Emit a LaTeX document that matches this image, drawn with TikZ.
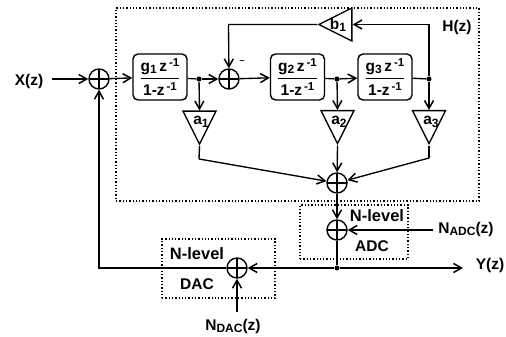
\documentclass[tikz,border=0pt]{standalone}
\usepackage{amsmath}
\usepackage{fontspec}
\setmainfont{Liberation Sans}
\usetikzlibrary{arrows.meta,shapes.geometric,calc}
\newcommand\lo[1]{\raisebox{-.3ex}{\fontsize{12}{12}\selectfont #1}}
\newcommand\hi[1]{\raisebox{.6ex}{\fontsize{11.5}{12}\selectfont #1}}
\newcommand\gf[1]{$\genfrac{}{}{1.2pt}{0}{\mbox{g\lo{#1}\,z\hi{\,-1}}}{\mbox{1-z\hi{\,-1}}}$}
\tikzset{
  every node/.style={font=\fontsize{15.5}{17}\selectfont\bfseries},
  wire/.style={line width=1.35pt},
  flow/.style={wire,-{Straight Barb[length=8pt,width=9pt,line width=1.5pt]}},
  sumnode/.style={draw,circle,line width=1.4pt,minimum size=20pt,inner sep=0pt,
    path picture={\draw[line width=1.3pt] (path picture bounding box.north)--(path picture bounding box.south)
      (path picture bounding box.west)--(path picture bounding box.east);}},
  gbox/.style={draw,rounded corners=5pt,line width=1.4pt,minimum width=54pt,minimum height=46pt,inner sep=0pt},
  gain/.style={draw,isosceles triangle,isosceles triangle stretches,line width=1.4pt,
    minimum height=33pt,minimum width=33pt,inner sep=0pt,shape border rotate=-90,anchor=apex},
  dot/.style={circle,fill=black,inner sep=0pt,minimum size=5pt},
  dotbox/.style={draw,line width=1.2pt,dash pattern=on 1.3pt off 2pt},
}
\begin{document}
\begin{tikzpicture}[x=1pt,y=-1pt]
\useasboundingbox (0,0) rectangle (506,337);
% dotted regions
\node[dotbox,minimum width=363pt,minimum height=193pt,inner sep=0pt] (hbox) at (297.5,104.5) {};
\node[dotbox,minimum width=108pt,minimum height=54pt,inner sep=0pt] (adcbox) at (354,232) {};
\node[dotbox,minimum width=113pt,minimum height=59pt,inner sep=0pt] (dacbox) at (218.5,268.5) {};
% blocks
\node[sumnode] (s1) at (99,79) {};
\node[sumnode] (s2) at (229,79) {};
\node[sumnode] (s3) at (337,183) {};
\node[sumnode] (s4) at (337,230) {};
\node[sumnode] (s5) at (237,268) {};
\node[gbox] (g1) at (160,77) {\gf{1}};
\node[gbox] (g2) at (297.5,77) {\gf{2}};
\node[gbox] (g3) at (385,77) {\gf{3}};
\node[gain] (a1) at (199.5,146) {};
\node[gain] (a2) at (337.5,145.5) {};
\node[gain] (a3) at (429,145.5) {};
\node[gain,shape border rotate=180] (b1) at (317,24.5) {};
\node[inner sep=0pt] (a1t) at (201,122) {a\lo{1}};
\node[inner sep=0pt] (a2t) at (339,122) {a\lo{2}};
\node[inner sep=0pt] (a3t) at (431,122) {a\lo{3}};
\node[inner sep=0pt] (b1t) at (338,25) {b\lo{1}};
\node[dot] (j1) at (199,79) {};
\node[dot] (j2) at (337,79) {};
\node[dot] (j3) at (429,79) {};
\node[dot] (j4) at (337,268) {};
\coordinate (xin) at (52,79);
\coordinate (yout) at (463,268);
\coordinate (nadc) at (433,230);
\coordinate (ndac) at (237,312);
\coordinate (k1) at (199,159);
\coordinate (k3) at (429,158);
\coordinate (fbr) at (429,24.5);
\coordinate (fbl) at (228.5,24.5);
\coordinate (dacl) at (99,268);
% connectors
\draw[flow] (xin) -- (s1);
\draw[flow] (s1) -- (g1);
\draw[wire] (g1) -- (j1);
\draw[flow] (j1) -- (s2);
\draw[flow] (s2) -- (g2);
\draw[wire] (g2) -- (j2);
\draw[flow] (j2) -- (g3);
\draw[wire] (g3) -- (j3);
\draw[flow] (j1) -- (a1.lower side);
\draw[flow] (j2) -- (a2.lower side);
\draw[flow] (j3) -- (a3.lower side);
\draw[flow] (j3) -- (fbr) -- (b1.lower side);
\draw[flow] (b1.apex) -- (fbl) -- (s2);
\draw[wire] (a1.apex) -- (k1);
\draw[flow] (k1) -- (s3);
\draw[flow] (a2.apex) -- (s3);
\draw[wire] (a3.apex) -- (k3);
\draw[flow] (k3) -- (s3);
\draw[flow] (s3) -- (s4);
\draw[flow] (nadc) -- (s4);
\draw[wire] (s4) -- (j4);
\draw[flow] (j4) -- (yout);
\draw[flow] (j4) -- (s5);
\draw[flow] (ndac) -- (s5);
\draw[flow] (s5) -- (dacl) -- (s1);
% labels
\node (xl) at (29,81) {X(z)};
\node (hl) at (457,27) {H(z)};
\node (yl) at (490,265) {Y(z)};
\node[inner sep=0pt,font=\fontsize{9}{9}\selectfont\bfseries] (minus) at (242,62) {--};
\node[font=\fontsize{16.5}{17}\selectfont\bfseries] (n1) at (377,216) {N-level};
\node (n2) at (372,246) {ADC};
\node[font=\fontsize{16.5}{17}\selectfont\bfseries] (n3) at (197,254) {N-level};
\node (n4) at (197,284) {DAC};
\node (na) at (466,229) {N\lo{ADC}(z)};
\node (nd) at (233,326) {N\lo{DAC}(z)};
\end{tikzpicture}
\end{document}
